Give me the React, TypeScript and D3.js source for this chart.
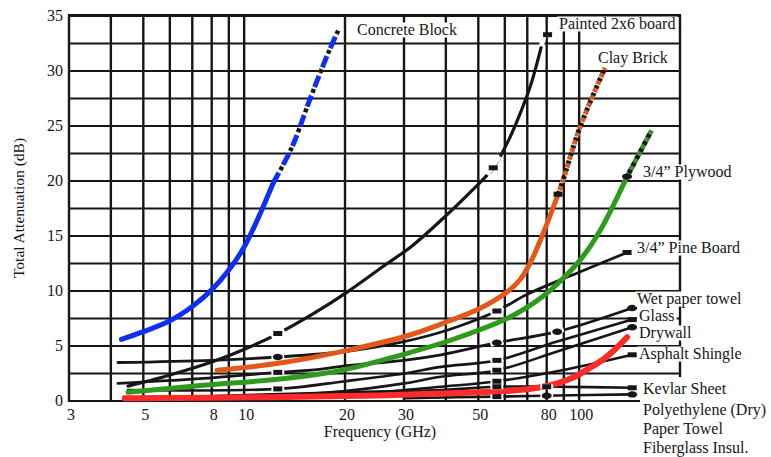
import React from 'react';
import * as d3 from 'd3';

const W = 771;
const H = 457;

// Axis values
const freqGrid = [3, 4, 5, 6, 7, 8, 9, 10, 20, 30, 40, 50, 60, 70, 80, 90, 100];
const freqTicks = [3, 5, 8, 10, 20, 30, 50, 80, 100];
const dbTicks = [0, 5, 10, 15, 20, 25, 30, 35];
const dbGrid = [0, 2.5, 5, 7.5, 10, 12.5, 15, 17.5, 20, 22.5, 25, 27.5, 30, 32.5, 35];

// Attenuation curves: [frequency GHz, attenuation dB]
const concreteBlock = [[4.3, 5.6], [5, 6.3], [6, 7.3], [7, 8.6], [8, 10.1], [9, 11.9], [10, 14.0], [11, 16.6], [12.2, 19.8]];
const concreteBlockExt = [[12.2, 19.8], [13.9, 23.1], [15.7, 27.4], [17.8, 31.6], [19.1, 33.7]];
const painted2x6 = [[4.5, 1.35], [5.9, 2.3], [7.4, 3.2], [9.3, 4.3], [12.2, 5.9], [16, 7.9], [20.3, 9.9], [25.9, 12.2], [31.7, 14.1], [38.9, 16.5], [47, 18.9], [55.4, 21.2], [62, 23.9], [67, 26.3], [72, 28.9], [78.7, 33.3]];
const clayBrick = [[8.3, 2.8], [12.8, 3.45], [20.3, 4.6], [31.2, 6.0], [41.1, 7.3], [50.5, 8.4], [60.9, 9.9], [66.5, 11.0], [71.3, 12.5], [78.0, 15.2], [85.8, 18.5]];
const clayBrickExt = [[85.8, 18.5], [88.9, 19.8], [100.6, 24.9], [119.5, 30.3]];
const plywood = [[4.5, 0.8], [7.4, 1.4], [12.8, 2.0], [17.2, 2.5], [20.3, 2.9], [25, 3.6], [31.2, 4.4], [41.1, 5.5], [60.9, 7.5], [73.1, 8.9], [82.3, 10.1], [100.6, 12.8], [115.5, 15.5], [139, 20.4]];
const plywoodExt = [[139, 20.4], [164.5, 24.6]];
const redSheet = [[4.4, 0.25], [12, 0.35], [25, 0.5], [41, 0.7], [61, 0.9], [75, 1.2], [86, 1.6], [97, 2.2], [107.5, 3.0], [117, 3.7], [126, 4.5], [139, 5.8]];
const pineBoard = [[4.2, 3.5], [8, 3.7], [12.6, 4.0], [20, 4.5], [30, 5.4], [41, 6.5], [57, 8.2], [70, 9.7], [100, 11.7], [139, 13.5]];
const wetPaperTowel = [[4.2, 1.6], [8, 2.1], [12.6, 2.6], [17, 2.9], [20, 3.2], [30, 3.7], [38.7, 4.2], [57, 5.3], [86, 6.3], [144, 8.45]];
const glass = [[4.5, 1.0], [12.6, 1.1], [20, 1.8], [30, 2.5], [38.7, 3.1], [57, 3.7], [86, 5.4], [144, 7.4]];
const drywall = [[4.5, 0.3], [12.6, 0.5], [20, 0.9], [30, 1.6], [38.7, 2.2], [57, 2.8], [86, 4.5], [144, 6.7]];
const asphaltShingle = [[4.5, 0.2], [20, 0.6], [38.7, 1.3], [57, 1.8], [86, 2.7], [144, 4.2]];
const kevlarSheet = [[4.5, 0.2], [20, 0.8], [38.7, 1.0], [57, 1.3], [86, 1.3], [144, 1.2]];
const polyethylene = [[30, 0.25], [57, 0.4], [86, 0.5], [144, 0.6]];

// Measurement markers (frequency GHz) on each curve
const paintedMarks = [12.6, 55.4, 80.5];
const clayMarks = [86.5];
const plywoodMarks = [139];
const pineMarks = [12.6, 56.8, 139];
const wetMarks = [12.6, 56.8, 86, 144];
const glassMarks = [12.6, 56.8, 144];
const drywallMarks = [56.8, 144];
const asphaltMarks = [56.8, 144];
const kevlarMarks = [56.8, 80, 144];
const polyMarks = [56.8, 80, 144];

// Material labels
const materialLabels = [
  'Concrete Block', 'Painted 2x6 board', 'Clay Brick', '3/4\u201d Plywood', '3/4\u201d Pine Board',
  'Wet paper towel', 'Glass', 'Drywall', 'Asphalt Shingle', 'Kevlar Sheet',
  'Polyethylene (Dry)', 'Paper Towel', 'Fiberglass Insul.',
];
const labelPos: [number, number][] = [
  [357, 30], [559, 24], [598, 58], [643, 172], [637, 248],
  [637, 299], [639, 316], [639, 333], [639, 354], [643, 389],
  [643, 410], [643, 429], [643, 448],
];

const FONT = '"Liberation Serif", "Times New Roman", serif';
const INK = '#161616';

const measureCtx = typeof document !== 'undefined' ? document.createElement('canvas').getContext('2d') : null;
function textWidth(t: string, size: number) {
  if (!measureCtx) return t.length * size * 0.5;
  measureCtx.font = `${size}px ${FONT}`;
  return measureCtx.measureText(t).width;
}

function valueAt(data: number[][], f: number) {
  for (let i = 0; i < data.length - 1; i++) {
    const [f0, v0] = data[i];
    const [f1, v1] = data[i + 1];
    if (f >= f0 && f <= f1) {
      const t = (Math.log(f) - Math.log(f0)) / (Math.log(f1) - Math.log(f0));
      return v0 + t * (v1 - v0);
    }
  }
  return f < data[0][0] ? data[0][1] : data[data.length - 1][1];
}

export default function App() {
  const x = d3.scaleLog().domain([3, 200]).range([69, 680]);
  const y = d3.scaleLinear().domain([0, 35]).range([401, 16]);
  const line = d3.line<number[]>().x(d => x(d[0])).y(d => y(d[1])).curve(d3.curveCatmullRom.alpha(0.5));

  const blackSeries: [number[][], number, number[], string[]][] = [
    [painted2x6, 3.2, paintedMarks, ['bar', 'bar', 'bar']],
    [pineBoard, 2.8, pineMarks, ['dot', 'bar', 'bar']],
    [wetPaperTowel, 2.8, wetMarks, ['bar', 'dot', 'dot', 'dot']],
    [glass, 2.6, glassMarks, ['bar', 'bar', 'bar']],
    [drywall, 2.6, drywallMarks, ['bar', 'dot']],
    [asphaltShingle, 2.6, asphaltMarks, ['bar', 'bar']],
    [kevlarSheet, 2.6, kevlarMarks, ['bar', 'bar', 'bar']],
    [polyethylene, 2.6, polyMarks, ['bar', 'dot', 'dot']],
  ];

  const markerAt = (data: number[][], f: number, shape: string, key: string, gap = true) => {
    const cx = x(f);
    const cy = y(valueAt(data, f));
    const fa = Math.max(data[0][0], f / 1.045);
    const fb = Math.min(data[data.length - 1][0], f * 1.045);
    return (
      <g key={key}>
        {gap && (
          <line x1={x(fa)} y1={y(valueAt(data, fa))} x2={x(fb)} y2={y(valueAt(data, fb))}
            stroke="#fff" strokeWidth={5} />
        )}
        {shape === 'bar'
          ? <rect x={cx - 4.5} y={cy - 2.5} width={9} height={5} fill={INK} />
          : <ellipse cx={cx} cy={cy} rx={5} ry={3.2} fill={INK} />}
      </g>
    );
  };

  return (
    <svg width={W} height={H} style={{ position: 'absolute', left: 0, top: 0, display: 'block' }} fontFamily={FONT}>
      <rect width={W} height={H} fill="#fff" />

      {/* grid */}
      <g stroke={INK}>
        {dbGrid.map(v => (
          <line key={'h' + v} x1={68} x2={v === 0 ? 640 : 681} y1={y(v)} y2={y(v)} strokeWidth={2} />
        ))}
        {freqGrid.map(f => (
          <line key={'v' + f} x1={x(f)} x2={x(f)} y1={15} y2={402} strokeWidth={2.4} />
        ))}
        <line x1={680} x2={680} y1={15} y2={377} strokeWidth={2.4} />
        <line x1={68} x2={681} y1={15} y2={15} strokeWidth={2} />
      </g>

      {/* black material curves */}
      {blackSeries.map(([data, sw], i) => (
        <path key={'b' + i} d={line(data) || ''} fill="none" stroke={INK} strokeWidth={sw} strokeLinecap="round" />
      ))}

      {/* coloured curves */}
      <path d={line(redSheet) || ''} fill="none" stroke="#ff2a2a" strokeWidth={6} strokeLinecap="round" />
      <path d={line(plywood) || ''} fill="none" stroke="#2f9a1e" strokeWidth={5} strokeLinecap="round" />
      <path d={line(plywoodExt) || ''} fill="none" stroke="#2f9a1e" strokeWidth={5} strokeDasharray="4 4" />
      <path d={line(plywoodExt) || ''} fill="none" stroke={INK} strokeWidth={5} strokeDasharray="0 4 4 0" />
      <path d={line(clayBrick) || ''} fill="none" stroke="#e2581a" strokeWidth={5} strokeLinecap="round" />
      <path d={line(clayBrickExt) || ''} fill="none" stroke="#e2581a" strokeWidth={5} strokeDasharray="4 4" />
      <path d={line(clayBrickExt) || ''} fill="none" stroke={INK} strokeWidth={5} strokeDasharray="0 4 3 1" />
      <path d={line(concreteBlock) || ''} fill="none" stroke="#1030f0" strokeWidth={5} strokeLinecap="round" />
      <path d={line(concreteBlockExt) || ''} fill="none" stroke="#1030f0" strokeWidth={5} strokeDasharray="12 9" />
      <path d={line(concreteBlockExt) || ''} fill="none" stroke={INK} strokeWidth={4.5} strokeDasharray="0 15 4 2" />

      {/* measurement markers */}
      {blackSeries.map(([data, , marks, shapes], i) =>
        marks.map((f, j) => markerAt(data, f, shapes[j], `m${i}-${j}`, j < marks.length - 1 || i === 0))
      )}
      {clayMarks.map((f, j) => markerAt(clayBrick.concat(clayBrickExt), f, 'bar', 'c' + j, false))}
      {plywoodMarks.map((f, j) => markerAt(plywood, f, 'dot', 'p' + j, false))}

      {/* axis tick labels */}
      <g fontSize={16} fill={INK}>
        {dbTicks.map(v => (
          <text key={'yt' + v} x={63} y={y(v)} dy="0.33em" textAnchor="end">{v}</text>
        ))}
        {freqTicks.map(f => (
          <text key={'xt' + f} x={x(f) + 2} y={420} textAnchor="middle">{f}</text>
        ))}
      </g>
      <text x={380} y={437} fontSize={16} textAnchor="middle" fill={INK}>Frequency (GHz)</text>
      <text transform="translate(24,208) rotate(-90)" fontSize={15.5} textAnchor="middle" fill={INK}>
        Total Attenuation (dB)
      </text>

      {/* material labels */}
      <g fontSize={16} fill={INK}>
        {materialLabels.map((t, i) => {
          const [lx, cy] = labelPos[i];
          const w = textWidth(t, 16);
          return (
            <g key={'l' + i}>
              <rect x={lx - 2} y={cy - 7.5} width={w + 4} height={15} fill="#fff" />
              <text x={lx} y={cy} dy="0.33em">{t}</text>
            </g>
          );
        })}
      </g>
    </svg>
  );
}
